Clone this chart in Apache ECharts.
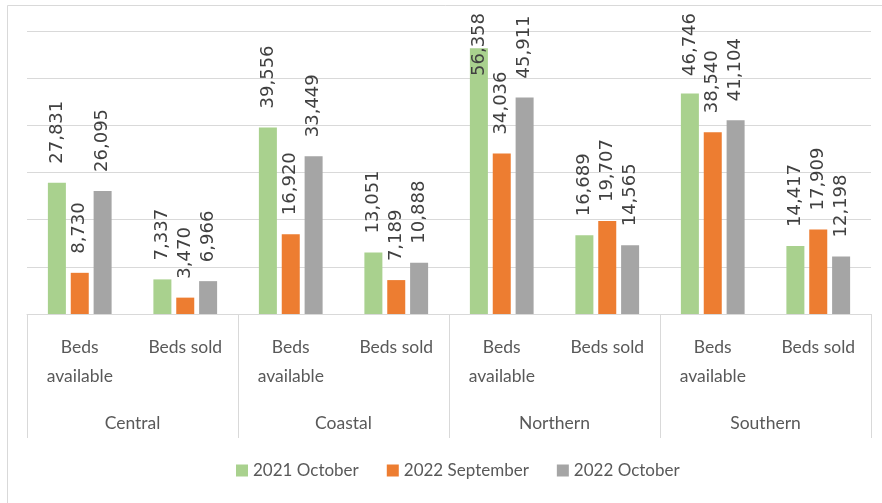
<!DOCTYPE html>
<html>
<head>
<meta charset="utf-8">
<script src="https://cdn.jsdelivr.net/npm/echarts@6/dist/echarts.min.js"></script>
<style>
  html, body { margin: 0; padding: 0; background: #fff; }
  #chart { width: 882px; height: 503px; }
</style>
</head>
<body>
<div id="chart"></div>
<script>
  var regions = ['Central', 'Coastal', 'Northern', 'Southern'];
  var measures = ['Beds\navailable', 'Beds sold'];
  var seriesNames = ['2021 October', '2022 September', '2022 October'];
  var oct2021 = [27831, 7337, 39556, 13051, 56358, 16689, 46746, 14417];
  var sep2022 = [8730, 3470, 16920, 7189, 34036, 19707, 38540, 17909];
  var oct2022 = [26095, 6966, 33449, 10888, 45911, 14565, 41104, 12198];
  var colors = ['#a9d18e', '#ed7d31', '#a5a5a5'];

  var categories = [];
  regions.forEach(function () {
    measures.forEach(function (m) { categories.push(m); });
  });

  var catFont = 'Lato';
  var catSize = 17.5;
  var labelFont = 'DejaVu Sans';
  var labelSize = 18;

  var chart = echarts.init(document.getElementById('chart'));

  function makeSeries(name, data, i) {
    return {
      name: name,
      type: 'bar',
      xAxisIndex: 0,
      barWidth: 18,
      barGap: '27%',
      itemStyle: { color: colors[i] },
      label: {
        show: true,
        position: 'top',
        rotate: 90,
        align: 'left',
        verticalAlign: 'middle',
        distance: 19,
        fontFamily: labelFont,
        fontSize: labelSize,
        color: '#404040',
        formatter: function (p) { return Number(p.value).toLocaleString('en-US'); }
      },
      data: data
    };
  }

  chart.setOption({
    backgroundColor: '#fff',
    animation: false,
    color: colors,
    graphic: [{
      type: 'rect',
      shape: { x: 7.5, y: 5.5, width: 900, height: 540 },
      style: { fill: 'none', stroke: '#d9d9d9', lineWidth: 1 },
      silent: true
    }],
    legend: {
      data: seriesNames,
      left: 231,
      top: 457,
      icon: 'rect',
      itemWidth: 12,
      itemHeight: 12,
      itemGap: 28,
      textStyle: { fontFamily: catFont, fontSize: 17, color: '#595959' }
    },
    grid: { left: 27, right: 11, top: 31, bottom: 189 },
    xAxis: [{
      type: 'category',
      data: categories,
      position: 'bottom',
      axisLine: { show: false },
      axisTick: { show: false },
      axisLabel: {
        interval: 0,
        margin: 19,
        fontFamily: catFont,
        fontSize: catSize,
        lineHeight: 29,
        color: '#595959'
      }
    }, {
      type: 'category',
      data: regions,
      position: 'bottom',
      axisLine: { show: true, lineStyle: { color: '#d9d9d9', width: 1 } },
      axisTick: { show: true, length: 124, lineStyle: { color: '#d9d9d9', width: 1 } },
      axisLabel: {
        interval: 0,
        margin: 100,
        fontFamily: catFont,
        fontSize: catSize,
        color: '#595959'
      }
    }],
    yAxis: {
      type: 'value',
      min: 0,
      max: 60000,
      interval: 10000,
      axisLabel: { show: false },
      axisLine: { show: false },
      axisTick: { show: false },
      splitLine: { lineStyle: { color: '#d9d9d9', width: 1 } }
    },
    series: [
      makeSeries(seriesNames[0], oct2021, 0),
      makeSeries(seriesNames[1], sep2022, 1),
      makeSeries(seriesNames[2], oct2022, 2)
    ]
  });

  // keep the rotated labels inside the chart area, like the original does
  var ctx = document.createElement('canvas').getContext('2d');
  ctx.font = labelSize + 'px ' + labelFont;
  var topLimit = 13;
  function fitLabels(arr) {
    return arr.map(function (v) {
      var y = chart.convertToPixel({ yAxisIndex: 0 }, v);
      var len = ctx.measureText(v.toLocaleString('en-US')).width;
      return { value: v, label: { distance: Math.min(19, y - topLimit - len) } };
    });
  }
  chart.setOption({
    series: [
      { data: fitLabels(oct2021) },
      { data: fitLabels(sep2022) },
      { data: fitLabels(oct2022) }
    ]
  });
</script>
</body>
</html>
